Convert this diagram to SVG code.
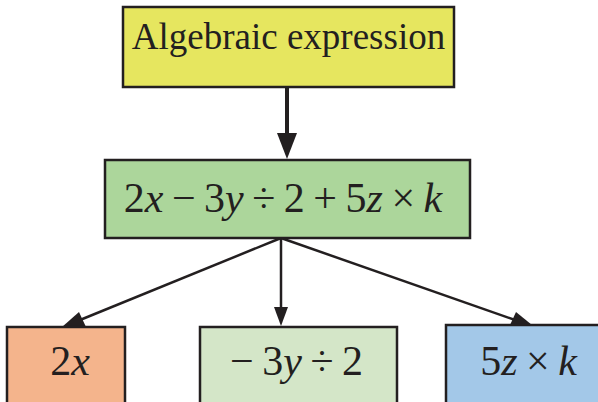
<svg xmlns="http://www.w3.org/2000/svg" width="598" height="402" viewBox="0 0 598 402">
<style>
.box{stroke:#231f20;stroke-width:2.5}
.t{font-family:"Liberation Serif","Times New Roman",serif;fill:#231f20;text-anchor:middle}
.m{font-size:42px;word-spacing:-2px}
.i{font-style:italic}
.c{stroke:#231f20;fill:none}
</style>
<g id="connectors">
<line class="c" x1="287" y1="87" x2="287" y2="140" stroke-width="4"/>
<path d="M277,133 L287,159 L297,133 z" fill="#231f20"/>
<line class="c" x1="281" y1="238" x2="281" y2="312" stroke-width="2.5"/>
<path d="M274,307 L281,326 L288,307 z" fill="#231f20"/>
<line class="c" x1="281" y1="238" x2="80" y2="320" stroke-width="2.5"/>
<path d="M62,327 L79,312 L86,327 z" fill="#231f20"/>
<line class="c" x1="281" y1="238" x2="515" y2="320" stroke-width="2.5"/>
<path d="M510,325 L516,312 L532,325 z" fill="#231f20"/>
</g>
<g id="top">
<rect class="box" x="123" y="7" width="331" height="80" fill="#e6e65f"/>
<text class="t" x="288.5" y="49" font-size="37">Algebraic expression</text>
</g>
<g id="expr">
<rect class="box" x="105" y="160" width="365" height="78" fill="#acd69b"/>
<text class="t m" x="283" y="212">2<tspan class="i">x</tspan> − 3<tspan class="i">y</tspan> ÷ 2 + 5<tspan class="i">z</tspan> × <tspan class="i">k</tspan></text>
</g>
<g id="term1">
<rect class="box" x="7" y="327" width="118" height="90" fill="#f4b48c"/>
<text class="t m" x="70" y="375">2<tspan class="i">x</tspan></text>
</g>
<g id="term2">
<rect class="box" x="200" y="327" width="197" height="90" fill="#d4e6c8"/>
<text class="t m" x="296.5" y="375">− 3<tspan class="i">y</tspan> ÷ 2</text>
</g>
<g id="term3">
<rect class="box" x="446" y="325" width="170" height="90" fill="#a3c8e8"/>
<text class="t m" x="528.5" y="375">5<tspan class="i">z</tspan> × <tspan class="i">k</tspan></text>
</g>
</svg>
